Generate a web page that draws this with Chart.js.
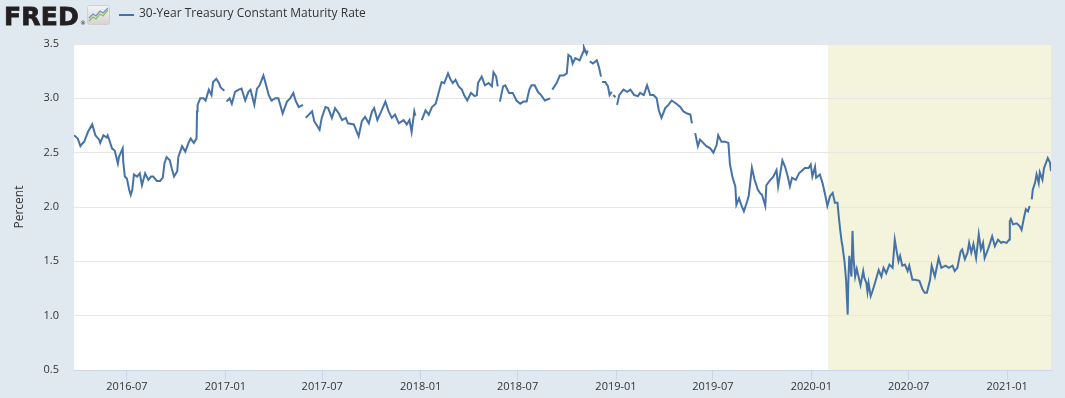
<!DOCTYPE html>
<html>
<head>
<meta charset="utf-8">
<title>30-Year Treasury Constant Maturity Rate</title>
<script src="https://cdn.jsdelivr.net/npm/chart.js@4.4.1/dist/chart.umd.min.js"></script>
<style>
  html, body { margin: 0; padding: 0; background: #e1e9f0; }
  #wrap { position: relative; width: 1065px; height: 398px; overflow: hidden; }
  #chart { position: absolute; left: 0; top: 0; }
  #logo { position: absolute; left: 4px; top: 4px; font: bold 25px/25px 'DejaVu Sans', sans-serif; color: #231f20; letter-spacing: 0.2px; -webkit-text-stroke: 0.8px #231f20; }
  #reg { position: absolute; left: 80px; top: 20px; font: 6px/6px 'DejaVu Sans', sans-serif; color: #231f20; }
  #icon { position: absolute; left: 87px; top: 5px; }
  #legend { position: absolute; left: 119px; top: 5px; font: 12px/16px 'Open Sans', sans-serif; color: #333; white-space: nowrap; }
  #legend .swatch { position: absolute; left: 0; top: 9px; width: 15px; height: 2px; background: #4572a7; }
  #legend .label { position: absolute; left: 20px; top: 0; }
</style>
</head>
<body>
<div id="wrap">
  <canvas id="chart" width="1065" height="398"></canvas>
  <div id="logo">FRED</div>
  <div id="reg">®</div>
  <svg id="icon" width="23" height="20" viewBox="0 0 23 20">
    <defs>
      <linearGradient id="ig" x1="0" y1="0" x2="0" y2="1">
        <stop offset="0" stop-color="#f4f4f4"/>
        <stop offset="1" stop-color="#d4d4d4"/>
      </linearGradient>
    </defs>
    <rect x="0.5" y="0.5" width="22" height="19" rx="2" fill="url(#ig)" stroke="#d0d0d0"/>
    <polyline points="2,16 6,12 9,14 13,9 16,11 21,5" fill="none" stroke="#8cc152" stroke-width="1.3"/>
    <polyline points="2,13 6,9 9,11 13,6 16,8 21,3" fill="none" stroke="#6a93c6" stroke-width="1.3"/>
  </svg>
  <div id="legend"><span class="swatch"></span><span class="label">30-Year Treasury Constant Maturity Rate</span></div>
</div>
<script>
// 30-Year Treasury Constant Maturity Rate (percent)
const days2016 = ['03-24','03-31','04-05','04-08','04-12','04-19','04-27','05-03','05-10','05-12',
  '05-18','05-24','05-26','06-03','06-08','06-10','06-14','06-16','06-23','06-24',
  '06-27','07-01','07-05','07-08','07-11','07-14','07-20','07-25','07-29','08-04',
  '08-10','08-15','08-19','08-26','09-01','09-06','09-09','09-13','09-19','09-23',
  '09-27','10-03','10-05','10-12','10-18','10-24','10-28','11-03','11-08','11-09',
  '11-10','11-15','11-21','11-25','12-01','12-06','12-09','12-15','12-20','12-23',
  '12-30'];
const rate2016 = [2.66,2.63,2.56,2.58,2.60,2.69,2.76,2.66,2.62,2.59,
  2.66,2.64,2.66,2.54,2.52,2.48,2.40,2.46,2.54,2.42,
  2.28,2.26,2.16,2.11,2.16,2.30,2.28,2.31,2.20,2.31,
  2.25,2.28,2.28,2.24,2.24,2.27,2.40,2.46,2.43,2.35,
  2.28,2.33,2.46,2.56,2.51,2.59,2.63,2.59,2.63,2.88,
  2.94,3.00,3.00,2.98,3.08,3.03,3.15,3.18,3.14,3.10,
  3.07];

const days2017 = ['01-02','01-03','01-09','01-13','01-19','01-26','01-31','02-07','02-13','02-17',
  '02-24','03-01','03-06','03-13','03-17','03-23','03-28','04-04','04-10','04-18',
  '04-26','05-02','05-08','05-12','05-18','05-26','05-29','05-31','06-06','06-12',
  '06-16','06-26','06-30','07-07','07-12','07-19','07-25','08-01','08-07','08-14',
  '08-18','08-29','09-07','09-13','09-19','09-26','10-02','10-06','10-12','10-20',
  '10-27','11-02','11-08','11-14','11-21','11-30','12-06','12-11','12-15','12-20',
  '12-22','12-25','12-28'];
const rate2017 = [null,2.97,3.00,2.95,3.06,3.08,3.09,2.98,3.06,3.08,
  2.94,3.09,3.12,3.21,3.14,3.03,2.98,3.00,3.00,2.86,
  2.97,3.00,3.05,2.98,2.92,2.94,null,2.82,2.85,2.88,
  2.79,2.71,2.82,2.92,2.91,2.82,2.91,2.86,2.80,2.82,
  2.77,2.76,2.65,2.79,2.83,2.77,2.88,2.91,2.80,2.89,
  2.97,2.88,2.82,2.85,2.77,2.80,2.76,2.80,2.69,2.88,
  2.84,null,2.76];

const days2018 = ['01-01','01-03','01-10','01-16','01-22','01-29','02-05','02-09','02-14','02-21',
  '02-26','03-02','03-07','03-13','03-19','03-23','03-29','04-05','04-12','04-16',
  '04-18','04-25','05-01','05-08','05-14','05-17','05-22','05-25','05-28','05-29',
  '06-04','06-08','06-15','06-22','06-29','07-06','07-12','07-18','07-23','07-27',
  '08-02','08-08','08-14','08-21','08-31','09-03','09-04','09-12','09-18','09-25',
  '10-01','10-04','10-09','10-12','10-17','10-25','11-01','11-02','11-07','11-09',
  '11-12','11-13','11-19','11-26','11-30','12-04','12-05','12-06','12-12','12-17',
  '12-20','12-24','12-25','12-27','12-31'];
const rate2018 = [null,2.80,2.89,2.85,2.92,2.95,3.08,3.15,3.14,3.23,
  3.17,3.14,3.17,3.11,3.08,3.03,2.98,3.05,3.02,3.03,
  3.14,3.20,3.12,3.14,3.11,3.24,3.20,3.11,null,2.97,
  3.11,3.12,3.05,3.05,2.98,2.95,2.97,2.97,3.08,3.12,
  3.12,3.06,3.03,2.98,3.00,null,3.08,3.14,3.21,3.21,
  3.23,3.40,3.38,3.32,3.37,3.35,3.43,3.47,3.41,3.44,
  null,3.34,3.32,3.35,3.29,3.20,null,3.15,3.15,3.11,
  3.03,3.06,null,3.03,3.01];

const days2019 = ['01-01','01-03','01-07','01-15','01-22','01-28','02-04','02-11','02-15','02-22',
  '02-28','03-06','03-12','03-18','03-22','03-27','04-03','04-09','04-15','04-24',
  '05-01','05-07','05-14','05-20','05-23','05-27','05-29','06-03','06-07','06-13',
  '06-19','06-26','07-02','07-08','07-11','07-17','07-24','07-30','08-02','08-07',
  '08-12','08-14','08-19','08-23','08-28','09-03','09-06','09-12','09-17','09-23',
  '09-27','10-01','10-07','10-09','10-15','10-22','10-28','10-31','11-04','11-08',
  '11-13','11-18','11-22','11-26','12-03','12-09','12-16','12-20','12-27','12-31'];
const rate2019 = [null,2.94,3.03,3.08,3.06,3.08,3.03,3.02,3.05,3.03,
  3.12,3.03,3.03,3.00,2.89,2.82,2.91,2.94,2.98,2.95,
  2.92,2.88,2.86,2.85,2.77,null,2.68,2.56,2.62,2.59,
  2.56,2.54,2.50,2.57,2.66,2.60,2.60,2.59,2.39,2.27,
  2.19,2.02,2.08,2.02,1.96,2.05,2.10,2.36,2.25,2.16,
  2.13,2.11,2.01,2.20,2.24,2.28,2.34,2.19,2.31,2.43,
  2.37,2.28,2.19,2.27,2.25,2.31,2.34,2.36,2.36,2.39];

const days2020 = ['01-03','01-08','01-10','01-17','01-22','01-27','01-31','02-05','02-10','02-14',
  '02-19','02-21','02-24','02-27','02-28','03-03','03-06','03-09','03-10','03-12',
  '03-16','03-18','03-20','03-23','03-26','04-02','04-07','04-09','04-13','04-15',
  '04-17','04-21','04-24','04-29','05-06','05-11','05-15','05-20','05-26','06-01',
  '06-05','06-09','06-12','06-15','06-19','06-24','06-29','07-02','07-08','07-13',
  '07-21','07-27','07-31','08-04','08-10','08-13','08-19','08-26','08-31','09-08',
  '09-14','09-21','09-25','09-30','10-06','10-09','10-14','10-19','10-22','10-26',
  '10-30','11-04','11-09','11-13','11-17','11-20','11-27','12-04','12-09','12-15',
  '12-21','12-24','12-31'];
const rate2020 = [2.28,2.37,2.27,2.30,2.22,2.11,2.01,2.10,2.13,2.04,
  2.04,1.93,1.79,1.67,1.65,1.50,1.33,1.01,1.28,1.55,
  1.36,1.78,1.52,1.36,1.43,1.28,1.41,1.35,1.30,1.22,
  1.30,1.18,1.22,1.30,1.42,1.36,1.44,1.39,1.47,1.44,
  1.70,1.58,1.50,1.55,1.46,1.47,1.41,1.46,1.33,1.33,
  1.32,1.24,1.21,1.21,1.33,1.46,1.36,1.53,1.44,1.46,
  1.44,1.46,1.41,1.44,1.59,1.61,1.52,1.58,1.67,1.58,
  1.66,1.53,1.75,1.61,1.67,1.53,1.62,1.73,1.64,1.70,
  1.67,1.68,1.67];

const days2021 = ['01-05','01-06','01-08','01-12','01-19','01-25','01-28','02-01','02-05','02-09',
  '02-12','02-15','02-16','02-18','02-22','02-25','03-01','03-03','03-08','03-11',
  '03-15','03-18','03-22','03-24'];
const rate2021 = [1.70,1.87,1.89,1.84,1.85,1.82,1.79,1.89,1.98,1.96,
  2.01,null,2.07,2.16,2.22,2.30,2.22,2.32,2.25,2.36,
  2.41,2.45,2.41,2.33];

const tickLabels = ['2016-07','2017-01','2017-07','2018-01','2018-07','2019-01','2019-07','2020-01','2020-07','2021-01'];
const yTicks = [0.5, 1.0, 1.5, 2.0, 2.5, 3.0, 3.5];
const rangeStart = '2016-03-24';
const rangeEnd = '2021-03-24';
const recessionStart = '2020-02-01';

function utc(s) {
  const p = s.split('-').map(Number);
  return Date.UTC(p[0], (p[1] || 1) - 1, p[2] || 1);
}

const years = [[2016, days2016, rate2016], [2017, days2017, rate2017], [2018, days2018, rate2018],
               [2019, days2019, rate2019], [2020, days2020, rate2020], [2021, days2021, rate2021]];
const points = [];
years.forEach(([yr, days, rates]) => {
  if (days.length !== rates.length) throw new Error('length mismatch ' + yr + ': ' + days.length + ' vs ' + rates.length);
  days.forEach((d, i) => points.push({ x: utc(yr + '-' + d), y: rates[i] }));
});

const tickValues = tickLabels.map(utc);
const font = { family: "'Open Sans', sans-serif", size: 11 };

const plotBackground = {
  id: 'plotBackground',
  beforeDraw(chart) {
    const { ctx, chartArea: a, scales: { x } } = chart;
    ctx.save();
    ctx.fillStyle = '#ffffff';
    ctx.fillRect(a.left, a.top, a.right - a.left, a.bottom - a.top);
    const x0 = Math.round(x.getPixelForValue(utc(recessionStart)));
    ctx.fillStyle = '#f4f3dc';
    ctx.fillRect(x0, a.top, a.right - x0, a.bottom - a.top);
    ctx.restore();
  }
};

new Chart(document.getElementById('chart'), {
  type: 'line',
  data: {
    datasets: [{
      label: '30-Year Treasury Constant Maturity Rate',
      data: points,
      borderColor: '#4572a7',
      borderWidth: 2,
      pointRadius: 0,
      tension: 0,
      spanGaps: false
    }]
  },
  options: {
    responsive: false,
    animation: false,
    layout: { padding: { top: 44, right: 14, left: 0, bottom: 0 } },
    plugins: { legend: { display: false }, tooltip: { enabled: false } },
    scales: {
      x: {
        type: 'linear',
        min: utc(rangeStart),
        max: utc(rangeEnd),
        afterBuildTicks(scale) { scale.ticks = tickValues.map(v => ({ value: v })); },
        afterFit(scale) { scale.height = 28; },
        ticks: {
          autoSkip: false, maxRotation: 0, padding: 0, color: '#333', font,
          callback: v => tickLabels[tickValues.indexOf(v)]
        },
        grid: { drawOnChartArea: false, drawTicks: true, tickLength: 10, tickColor: '#ccd6eb' },
        border: { color: '#ccd6eb' }
      },
      y: {
        min: 0.5,
        max: 3.5,
        afterBuildTicks(scale) { scale.ticks = yTicks.map(v => ({ value: v })); },
        afterFit(scale) { scale.width = 74; },
        ticks: { padding: 15, color: '#333', font, callback: v => Number(v).toFixed(1) },
        grid: { color: '#e6e6e6', drawTicks: false },
        border: { display: false },
        title: {
          display: true, text: 'Percent', color: '#333',
          font: { family: "'Open Sans', sans-serif", size: 12 },
          padding: { top: 12, bottom: 0 }
        }
      }
    }
  },
  plugins: [plotBackground]
});
</script>
</body>
</html>
